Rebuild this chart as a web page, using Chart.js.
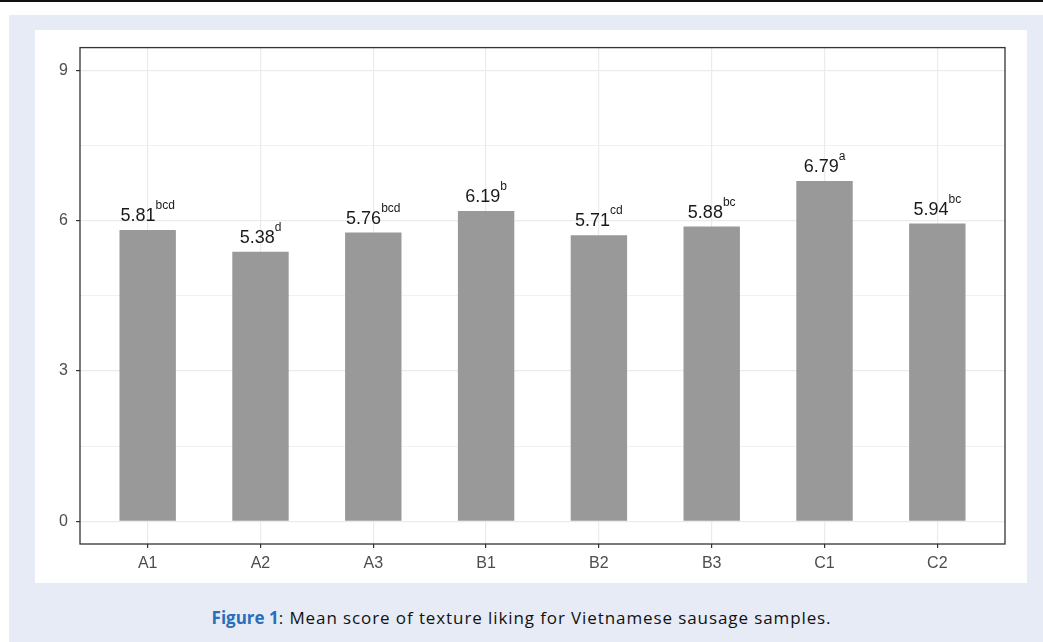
<!DOCTYPE html>
<html>
<head>
<meta charset="utf-8">
<title>Texture liking</title>
<script src="https://cdn.jsdelivr.net/npm/chart.js@4"></script>
<style>
  body { margin: 0; width: 1043px; height: 642px; overflow: hidden; background: #fff; }
  #rule { position: absolute; left: 0; top: 0; width: 1043px; height: 2px; background: #111; }
  #back { position: absolute; left: 9px; top: 15px; width: 1034px; height: 627px; background: #e7ebf6; }
  #box { position: absolute; left: 35px; top: 30px; width: 992px; height: 553px; background: #fff; }
  #caption { position: absolute; left: 0; top: 606px; width: 1043px; text-align: center;
             font-family: "Open Sans", sans-serif; font-size: 17px; color: #111; white-space: nowrap; }
  #caption b { color: #2a6ebb; }
  #caption span { letter-spacing: 0.9px; }
</style>
</head>
<body>
<div id="rule"></div>
<div id="back"></div>
<div id="box"><canvas id="myChart" width="992" height="553"></canvas></div>
<div id="caption"><b>Figure 1</b><span>: Mean score of texture liking for Vietnamese sausage samples.</span></div>

<script>
// samples and their mean texture scores
var samples = ["A1", "A2", "A3", "B1", "B2", "B3", "C1", "C2"];
var meanScores = [5.81, 5.38, 5.76, 6.19, 5.71, 5.88, 6.79, 5.94];
var letters = ["bcd", "d", "bcd", "b", "cd", "bc", "a", "bc"];

var yMajor = [0, 3, 6, 9];
var yMinor = [1.5, 4.5, 7.5];

var axisFont = { family: "Liberation Sans, Arial, sans-serif", size: 16 };

// grey frame round the whole panel
const panelFrame = {
  id: "panelFrame",
  afterDatasetsDraw(chart) {
    const a = chart.chartArea;
    const ctx = chart.ctx;
    ctx.save();
    ctx.strokeStyle = "#333";
    ctx.lineWidth = 1.3;
    ctx.strokeRect(a.left, a.top, a.right - a.left, a.bottom - a.top);
    ctx.restore();
  }
};

// value + letter group over every bar
const scoreLabels = {
  id: "scoreLabels",
  afterDatasetsDraw(chart) {
    const ctx = chart.ctx;
    const bars = chart.getDatasetMeta(0).data;
    const big = "18px Liberation Sans, Arial, sans-serif";
    const small = "12px Liberation Sans, Arial, sans-serif";
    ctx.save();
    ctx.fillStyle = "#1a1a1a";
    ctx.textBaseline = "alphabetic";
    ctx.textAlign = "left";
    bars.forEach((bar, i) => {
      const main = meanScores[i].toFixed(2);
      ctx.font = big;
      const w1 = ctx.measureText(main).width;
      ctx.font = small;
      const w2 = ctx.measureText(letters[i]).width;
      const x0 = bar.x - (w1 + w2) / 2;
      const base = bar.y - 9;
      ctx.font = big;
      ctx.fillText(main, x0, base);
      ctx.font = small;
      ctx.fillText(letters[i], x0 + w1, base - 12);
    });
    ctx.restore();
  }
};

new Chart("myChart", {
  type: "bar",
  data: {
    datasets: [{
      data: meanScores.map((v, i) => ({ x: i, y: v })),
      backgroundColor: "#999999",
      barPercentage: 0.5,
      categoryPercentage: 1
    }]
  },
  options: {
    responsive: false,
    animation: false,
    layout: { padding: { top: 17, right: 22, left: 0, bottom: 0 } },
    plugins: { legend: { display: false }, tooltip: { enabled: false } },
    scales: {
      x: {
        type: "linear",
        min: -0.6,
        max: samples.length - 0.4,
        offset: false,
        afterBuildTicks: s => { s.ticks = samples.map((n, i) => ({ value: i })); },
        afterFit: s => { s.height = 39; },
        ticks: {
          callback: v => samples[v],
          color: "#4d4d4d",
          font: axisFont,
          padding: 6,
          maxRotation: 0,
          autoSkip: false
        },
        grid: { offset: false, color: "#ebebeb", lineWidth: 1.2, tickColor: "#333", tickLength: 4, tickWidth: 1.2 },
        border: { display: false }
      },
      y: {
        min: -0.45,
        max: 9.45,
        afterBuildTicks: s => {
          s.ticks = yMajor.concat(yMinor).sort((a, b) => a - b).map(v => ({ value: v }));
        },
        afterFit: s => { s.width = 45; },
        ticks: {
          callback: v => (yMajor.includes(v) ? v : ""),
          color: "#4d4d4d",
          font: axisFont,
          padding: 8
        },
        grid: {
          color: "#ebebeb",
          lineWidth: c => (yMajor.includes(c.tick.value) ? 1.2 : 0.7),
          tickColor: c => (yMajor.includes(c.tick.value) ? "#333" : "rgba(0,0,0,0)"),
          tickLength: 4,
          tickWidth: 1.2
        },
        border: { display: false }
      }
    }
  },
  plugins: [panelFrame, scoreLabels]
});
</script>
</body>
</html>
